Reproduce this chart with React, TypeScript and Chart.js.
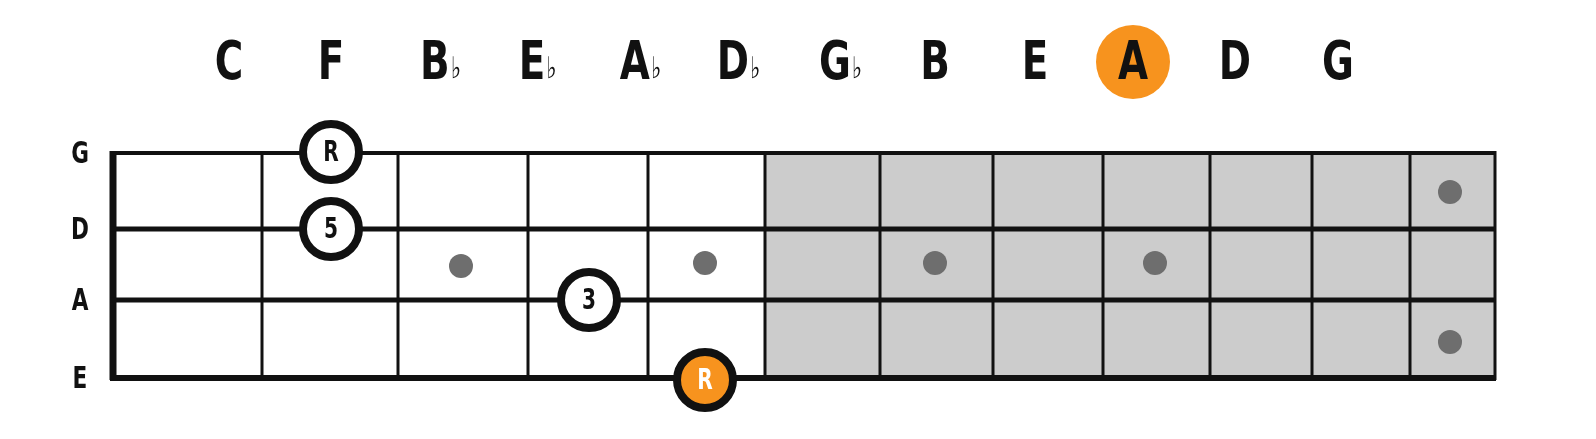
import React, { useEffect, useRef } from "react";
import { Chart, registerables } from "chart.js";
Chart.register(...registerables);

const fretX = [113, 262, 398, 528, 648, 765, 880, 993, 1103, 1210, 1312, 1410, 1495];
const grayFrom = 765;
const stringY = [153, 229, 300, 378];
const stringNames = ["G", "D", "A", "E"];
const noteNames = ["C", "F", "B♭", "E♭", "A♭", "D♭", "G♭", "B", "E", "A", "D", "G"];
const noteX = [229, 331, 440, 537, 640, 738, 840, 935, 1035, 1133, 1235, 1338];
const noteY = 62;
const highlightNote = "A";
const dotX = [461, 705, 935, 1155, 1450, 1450];
const dotY = [266, 263, 263, 263, 192, 342];
const markLabels = ["R", "5", "3", "R"];
const markX = [331, 331, 589, 705];
const markY = [152, 229, 300, 380];
const markOrange = [false, false, false, true];

const ORANGE = "#f7931e";
const FONT = "'DejaVu Sans', sans-serif";
const SQ = 0.72;

function condText(ctx: any, t: string, x: number, y: number) {
  ctx.save();
  ctx.translate(x, y);
  ctx.scale(SQ, 1);
  ctx.fillText(t, 0, 0);
  ctx.restore();
}

export default function App() {
  const ref = useRef<HTMLCanvasElement>(null);
  useEffect(() => {
    document.body.style.margin = "0";
    const plugin = {
      id: "board",
      beforeDatasetsDraw(chart: any) {
        const { ctx } = chart;
        const xs = chart.scales.x, ys = chart.scales.y;
        const X = (v: number) => xs.getPixelForValue(v);
        const Y = (v: number) => ys.getPixelForValue(v);
        ctx.save();
        const x0 = X(fretX[0]), x1 = X(fretX[fretX.length - 1]);
        const y0 = Y(stringY[0]), y1 = Y(stringY[stringY.length - 1]);
        ctx.fillStyle = "#ffffff";
        ctx.fillRect(x0, y0, x1 - x0, y1 - y0);
        ctx.fillStyle = "#cccccc";
        ctx.fillRect(X(grayFrom), y0, x1 - X(grayFrom), y1 - y0);
        ctx.strokeStyle = "#111";
        fretX.forEach((f, i) => {
          ctx.lineWidth = i === 0 ? 7 : 3;
          ctx.beginPath(); ctx.moveTo(X(f), y0 - 2); ctx.lineTo(X(f), y1 + 2); ctx.stroke();
        });
        stringY.forEach((s, i) => {
          ctx.lineWidth = i === 0 ? 4 : i === 3 ? 6 : 5;
          ctx.beginPath(); ctx.moveTo(x0 - 3, Y(s)); ctx.lineTo(x1 + 1, Y(s)); ctx.stroke();
        });
        ctx.fillStyle = "#111";
        ctx.textAlign = "center"; ctx.textBaseline = "middle";
        ctx.font = `bold 30px ${FONT}`;
        stringNames.forEach((n, i) => condText(ctx, n, X(80), Y(stringY[i]) + 2));
        noteNames.forEach((n, i) => {
          const cx = X(noteX[i]), cy = Y(noteY);
          if (n === highlightNote) {
            ctx.fillStyle = ORANGE;
            ctx.beginPath(); ctx.arc(cx, cy, 37, 0, Math.PI * 2); ctx.fill();
          }
          ctx.fillStyle = "#111";
          const letter = n[0], flat = n.slice(1);
          ctx.font = `bold 54px ${FONT}`;
          if (!flat) { condText(ctx, letter, cx, cy + 3); return; }
          const lw = ctx.measureText(letter).width * SQ;
          ctx.font = `30px ${FONT}`;
          const fw = ctx.measureText(flat).width * SQ;
          const start = cx - (lw + fw) / 2;
          ctx.font = `bold 54px ${FONT}`;
          condText(ctx, letter, start + lw / 2, cy + 3);
          ctx.font = `30px ${FONT}`;
          condText(ctx, flat, start + lw + fw / 2 + 1, cy + 8);
        });
        ctx.restore();
      },
      afterDatasetsDraw(chart: any) {
        const { ctx } = chart;
        const xs = chart.scales.x, ys = chart.scales.y;
        ctx.save();
        ctx.textAlign = "center"; ctx.textBaseline = "middle";
        ctx.font = `bold 28px ${FONT}`;
        markLabels.forEach((l, i) => {
          ctx.fillStyle = markOrange[i] ? "#ffffff" : "#111";
          condText(ctx, l, xs.getPixelForValue(markX[i]), ys.getPixelForValue(markY[i]) + 2);
        });
        ctx.restore();
      },
    };
    const chart = new Chart(ref.current!, {
      type: "scatter",
      data: {
        datasets: [
          {
            data: dotX.map((x, i) => ({ x, y: dotY[i] })),
            pointRadius: 12, backgroundColor: "#6e6e6e", borderWidth: 0,
          },
          {
            data: markX.map((x, i) => ({ x, y: markY[i] })),
            pointRadius: 28, borderWidth: 8, borderColor: "#111",
            backgroundColor: markOrange.map((o) => (o ? ORANGE : "#ffffff")),
          },
        ],
      },
      options: {
        animation: false, responsive: false,
        layout: { padding: 0, autoPadding: false },
        plugins: { legend: { display: false }, tooltip: { enabled: false } },
        events: [],
        scales: {
          x: { type: "linear", min: 0, max: 1596, display: false },
          y: { type: "linear", min: 0, max: 439, reverse: true, display: false },
        },
      },
      plugins: [plugin],
    });
    return () => chart.destroy();
  }, []);
  return <canvas ref={ref} width={1596} height={439} style={{ display: "block", background: "#fff" }} />;
}
